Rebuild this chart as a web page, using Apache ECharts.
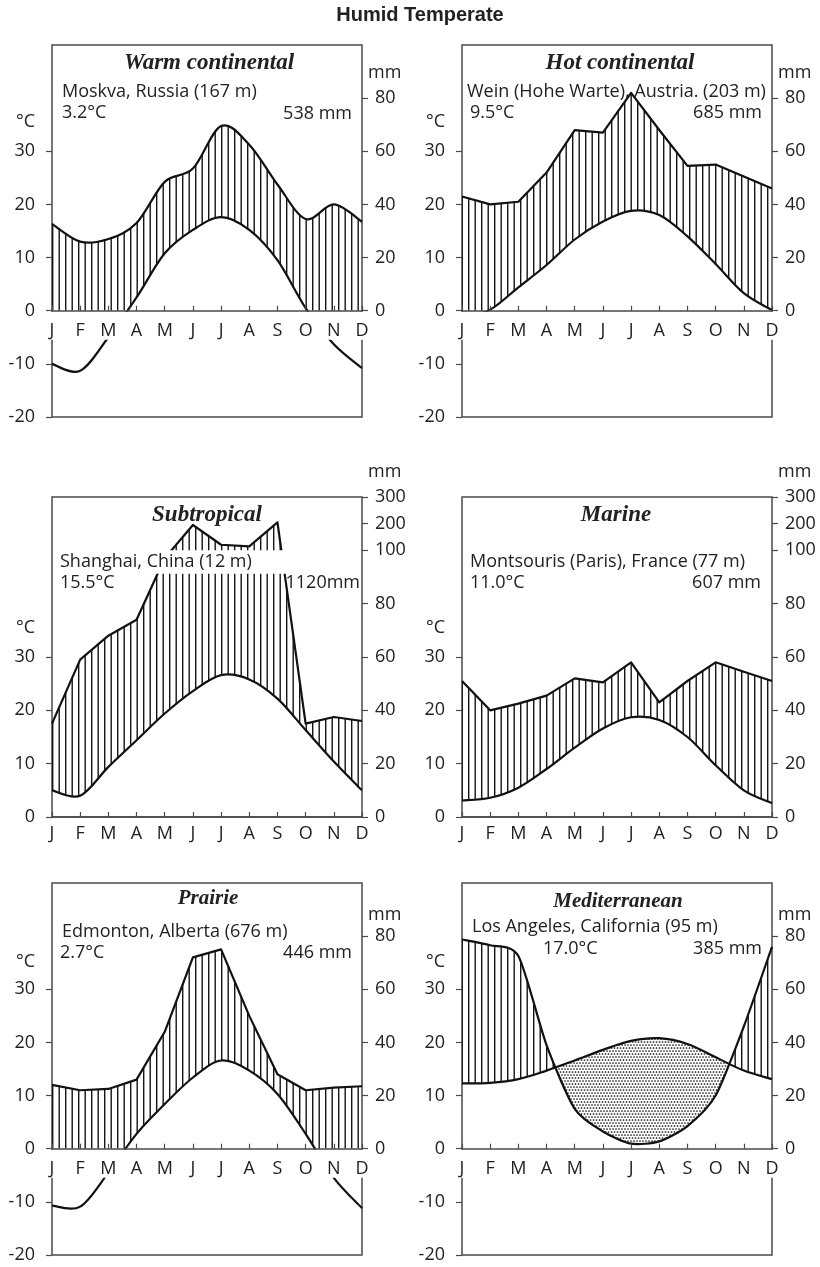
<!DOCTYPE html>
<html>
<head>
<meta charset="utf-8">
<script src="https://cdn.jsdelivr.net/npm/echarts@6/dist/echarts.min.js"></script>
<style>
html,body{margin:0;padding:0;background:#fff;}
#c{width:820px;height:1267px;}
</style>
</head>
<body>
<div id="c"></div>
<script>
// ---------- data ----------
const months = ['J','F','M','A','M','J','J','A','S','O','N','D'];

// Temperatures in °C, precipitation in mm
const moskvaTemp   = [-10, -11.3, -5, 2.5, 10.8, 15.2, 17.6, 15.2, 9.5, 0.5, -6.3, -10.8];
const moskvaPrec   = [32.7, 26, 27, 33, 48.5, 53.5, 69.5, 62.5, 47.5, 34.5, 40, 33.5];

const wienTemp     = [-1.5, 0.2, 4.4, 8.6, 13.4, 16.8, 18.8, 18, 14, 8.8, 3.3, 0.1];
const wienPrec     = [43, 40, 41, 52, 68, 67, 82, 68, 54.5, 55, 50.5, 46];

const shanghaiTemp = [5, 4, 9.4, 14.4, 19.4, 23.6, 26.6, 25.8, 22.2, 16.3, 10.4, 5];
const shanghaiPrec = [35, 59, 68, 74, 97, 195, 121, 115, 205, 35, 37.5, 36];

const parisTemp    = [3.1, 3.6, 5.5, 9, 13, 16.6, 18.7, 18.2, 15, 9.7, 5, 2.6];
const parisPrec    = [51, 40, 42.5, 45.5, 52, 50.5, 58, 43, 51, 58, 54.5, 51];

const edmontonTemp = [-10.7, -10.9, -4.5, 2.8, 8.4, 13.4, 16.6, 14.7, 10.3, 2.8, -5.5, -11.2];
const edmontonPrec = [24, 22, 22.5, 26, 44, 72, 75, 50, 28, 22, 23, 23.5];

const laTemp       = [12.3, 12.4, 13.1, 14.7, 16.6, 18.6, 20.3, 20.8, 19.7, 17.2, 14.7, 13.1];
const laPrec       = [78.75, 76.6, 72.5, 39, 15, 6.5, 1.9, 2.75, 8.5, 20, 46, 76];

// axis tick values
const tempTicksLow  = [-20, -10, 0, 10, 20, 30];
const tempTicksHigh = [0, 10, 20, 30];
const precTicksLow  = [0, 10, 20, 30, 40];            // 0..80 mm
const precTicksHigh = [0, 10, 20, 30, 40, 50, 55, 60]; // 0..100 mm, then 200, 300 mm

// ---------- helpers ----------
// Walter-Lieth scale: 20 mm = 10 °C up to 100 mm, above that 100 mm = 5 °C
function precToAxis(mm) { return mm <= 100 ? mm / 2 : 50 + (mm - 100) / 20; }
function axisToPrec(v) { return v <= 50 ? v * 2 : 100 + (v - 50) * 20; }

const hatchCanvas = document.createElement('canvas');
hatchCanvas.width = 13; hatchCanvas.height = 4;
(function () {
  const c = hatchCanvas.getContext('2d');
  c.fillStyle = '#151515';
  c.fillRect(0, 0, 1.4, 4);
  c.fillRect(6.5, 0, 1.4, 4);
})();
const dotCanvas = document.createElement('canvas');
dotCanvas.width = 6; dotCanvas.height = 6;
(function () {
  const c = dotCanvas.getContext('2d');
  c.fillStyle = '#111';
  [[1, 1], [4, 1], [7, 1], [2.5, 4], [5.5, 4], [-0.5, 4]].forEach(function (p) {
    c.beginPath(); c.arc(p[0], p[1], 0.85, 0, Math.PI * 2); c.fill();
  });
})();
const hatchPattern = { type: 'pattern', image: hatchCanvas, repeat: 'repeat' };
const dotPattern = { type: 'pattern', image: dotCanvas, repeat: 'repeat' };

function curvePath(pts, t) {
  const f = v => v.toFixed(2);
  let d = 'M' + f(pts[0][0]) + ' ' + f(pts[0][1]);
  for (let i = 0; i < pts.length - 1; i++) {
    const p1 = pts[i], p2 = pts[i + 1];
    if (!t) { d += 'L' + f(p2[0]) + ' ' + f(p2[1]); continue; }
    const p0 = pts[i - 1] || p1, p3 = pts[i + 2] || p2;
    const c1x = p1[0] + (p2[0] - p0[0]) * t, c1y = p1[1] + (p2[1] - p0[1]) * t;
    const c2x = p2[0] - (p3[0] - p1[0]) * t, c2y = p2[1] - (p3[1] - p1[1]) * t;
    d += 'C' + [c1x, c1y, c2x, c2y, p2[0], p2[1]].map(f).join(' ');
  }
  return d;
}

// ---------- layout ----------
const FONT = '"Open Sans"';
const TXT = '#222';
const AX = '#4a4a4a';
const panels = [
  { left: 52,  top: 45,  height: 372, min: -20, max: 50, temp: moskvaTemp,   prec: moskvaPrec,   ts: 1/6, ps: 1/6, lm: 11,
    title: 'Warm continental', tx: 209, ty: 63, tfs: 23,
    station: 'Moskva, Russia (167 m)', sx: 62, sy: 92, mean: '3.2°C', mx: 62, my: 113, total: '538 mm', rx: 352, ry: 114, mmY: 73, cY: 122 },
  { left: 462, top: 45,  height: 372, min: -20, max: 50, temp: wienTemp,     prec: wienPrec,     ts: 1/6, ps: 0, lm: 11,
    title: 'Hot continental', tx: 620, ty: 63, tfs: 23,
    station: 'Wein (Hohe Warte), Austria. (203 m)', sx: 467, sy: 92, mean: '9.5°C', mx: 470, my: 113, total: '685 mm', rx: 762, ry: 113, mmY: 73, cY: 122 },
  { left: 52,  top: 497, height: 320, min: 0,   max: 60, temp: shanghaiTemp, prec: shanghaiPrec, ts: 1/6, ps: 0, lm: 7.5,
    title: 'Subtropical', tx: 207, ty: 515, tfs: 23,
    station: 'Shanghai, China (12 m)', sx: 60, sy: 562, mean: '15.5°C', mx: 60, my: 583, total: '1120mm', rx: 360, ry: 583, mmY: 472, cY: 628, gap: true },
  { left: 462, top: 497, height: 320, min: 0,   max: 60, temp: parisTemp,    prec: parisPrec,    ts: 1/6, ps: 0, lm: 7.5,
    title: 'Marine', tx: 616, ty: 515, tfs: 23,
    station: 'Montsouris (Paris), France (77 m)', sx: 470, sy: 562, mean: '11.0°C', mx: 470, my: 583, total: '607 mm', rx: 761, ry: 583, mmY: 472, cY: 628 },
  { left: 52,  top: 883, height: 372, min: -20, max: 50, temp: edmontonTemp, prec: edmontonPrec, ts: 1/6, ps: 0, lm: 11.5,
    title: 'Prairie', tx: 208, ty: 899, tfs: 21,
    station: 'Edmonton, Alberta (676 m)', sx: 62, sy: 932, mean: '2.7°C', mx: 60, my: 953, total: '446 mm', rx: 352, ry: 953, mmY: 915, cY: 962 },
  { left: 462, top: 883, height: 372, min: -20, max: 50, temp: laTemp,       prec: laPrec,       ts: 1/6, ps: 0.12, lm: 11.5,
    title: 'Mediterranean', tx: 618, ty: 902, tfs: 21,
    station: 'Los Angeles, California (95 m)', sx: 472, sy: 927, mean: '17.0°C', mx: 543, my: 949, total: '385 mm', rx: 762, ry: 949, mmY: 915, cY: 962 }
];
const W = 310;

function makeRender(p) {
  return function (params, api) {
    if (params.dataIndex !== 0) return;
    const cs = params.coordSys;
    const xL = cs.x, xR = cs.x + cs.width, yTop = cs.y;
    const y0 = api.coord([0, 0])[1];
    const tPts = p.temp.map((v, i) => api.coord([i, v]));
    const pPts = p.prec.map((v, i) => api.coord([i, precToAxis(v)]));
    const tD = curvePath(tPts, p.ts), pD = curvePath(pPts, p.ps);
    const down = 'L' + xR + ' ' + y0 + 'L' + xL + ' ' + y0 + 'Z';
    const up = 'L' + xR + ' ' + yTop + 'L' + xL + ' ' + yTop + 'Z';
    const full = { x: xL, y: yTop, width: cs.width, height: y0 - yTop };
    return {
      type: 'group',
      children: [
        { type: 'group', clipPath: { type: 'path', shape: { pathData: pD + down } }, children: [
          { type: 'group', clipPath: { type: 'path', shape: { pathData: tD + up } }, children: [
            { type: 'rect', shape: full, style: { fill: hatchPattern } } ] } ] },
        { type: 'group', clipPath: { type: 'path', shape: { pathData: tD + down } }, children: [
          { type: 'group', clipPath: { type: 'path', shape: { pathData: pD + up } }, children: [
            { type: 'rect', shape: full, style: { fill: dotPattern } } ] } ] },
        { type: 'path', shape: { pathData: tD }, style: { fill: 'none', stroke: '#111', lineWidth: 2.2, lineJoin: 'round' } },
        { type: 'path', shape: { pathData: pD }, style: { fill: 'none', stroke: '#111', lineWidth: 2.2, lineJoin: 'round' } }
      ]
    };
  };
}

const option = { animation: false, backgroundColor: '#fff', grid: [], xAxis: [], yAxis: [], series: [] };
panels.forEach(function (p, i) {
  const high = p.min === 0;
  // put the month axis on the 0 °C line
  const zeroOffset = -p.height * (0 - p.min) / (p.max - p.min);
  option.grid.push({ left: p.left, top: p.top, width: W, height: p.height, show: true,
    borderColor: AX, borderWidth: 1.5, backgroundColor: 'transparent' });
  option.xAxis.push({ type: 'value', gridIndex: i, min: 0, max: 11, interval: 1, z: 200,
    position: 'bottom', offset: zeroOffset,
    axisLine: { show: true, onZero: false, lineStyle: { color: AX, width: 1.5 } },
    axisTick: { show: true, inside: true, length: 5, lineStyle: { color: AX, width: 1.2 } },
    axisLabel: { margin: p.lm, formatter: v => months[Math.round(v)], fontFamily: FONT, fontSize: 18, color: TXT },
    splitLine: { show: false } });
  const lt = high ? tempTicksHigh : tempTicksLow;
  const rt = high ? precTicksHigh : precTicksLow;
  option.yAxis.push({ type: 'value', gridIndex: i, position: 'left', min: p.min, max: p.max, interval: 10,
    axisLine: { show: false }, splitLine: { show: false },
    axisTick: { show: true, length: 6, customValues: lt, lineStyle: { color: AX, width: 1.2 } },
    axisLabel: { customValues: lt, margin: 17, fontFamily: FONT, fontSize: 18, color: TXT, formatter: v => String(v) } });
  option.yAxis.push({ type: 'value', gridIndex: i, position: 'right', min: p.min, max: p.max, interval: 10,
    axisLine: { show: false }, splitLine: { show: false },
    axisTick: { show: true, length: 6, customValues: rt, lineStyle: { color: AX, width: 1.2 } },
    axisLabel: { customValues: rt, margin: 13, fontFamily: FONT, fontSize: 18, color: TXT, formatter: v => String(Math.round(axisToPrec(v))) } });
  option.series.push({ type: 'custom', coordinateSystem: 'cartesian2d', xAxisIndex: i, yAxisIndex: 2 * i,
    data: [[0, 0]], silent: true, clip: false, renderItem: makeRender(p) });
});

const chart = echarts.init(document.getElementById('c'), null, { renderer: 'canvas' });
chart.setOption(option);

function txt(text, x, y, font, align, z) {
  return { type: 'text', x: 0, y: 0, z: z || 150, silent: true,
    style: { text: text, x: x, y: y, font: font, fill: TXT,
      align: align, verticalAlign: 'middle', textAlign: align, textVerticalAlign: 'middle' } };
}
const graphics = [];
graphics.push(txt('Humid Temperate', 420, 15, 'bold 20px "Liberation Sans"', 'center'));
panels.forEach(function (p, i) {
  const yAx = { yAxisIndex: 2 * i };
  const right = p.left + W;
  graphics.push(txt(p.title, p.tx, p.ty, 'italic bold ' + p.tfs + 'px "Liberation Serif"', 'center'));
  graphics.push(txt(p.station, p.sx, p.sy, '18px ' + FONT, 'left'));
  graphics.push(txt(p.mean, p.mx, p.my, '18px ' + FONT, 'left'));
  graphics.push(txt(p.total, p.rx, p.ry, '18px ' + FONT, 'right'));
  graphics.push(txt('mm', right + 6, p.mmY, '18px ' + FONT, 'left'));
  graphics.push(txt('°C', p.left - 17, p.cY, '18px ' + FONT, 'right'));
  if (p.min < 0) {
    const z0 = chart.convertToPixel(yAx, 0);
    graphics.push({ type: 'rect', z: 100, silent: true,
      shape: { x: p.left - 3, y: z0 + 1, width: W + 6, height: 28 }, style: { fill: '#fff' } });
  }
  if (p.gap) {
    const a = chart.convertToPixel(yAx, 50), b = chart.convertToPixel(yAx, 45.6);
    graphics.push({ type: 'rect', z: 100, silent: true,
      shape: { x: p.left + 1, y: a, width: W - 2, height: b - a }, style: { fill: '#fff' } });
  }
});
chart.setOption({ graphic: { elements: graphics } });
</script>
</body>
</html>
